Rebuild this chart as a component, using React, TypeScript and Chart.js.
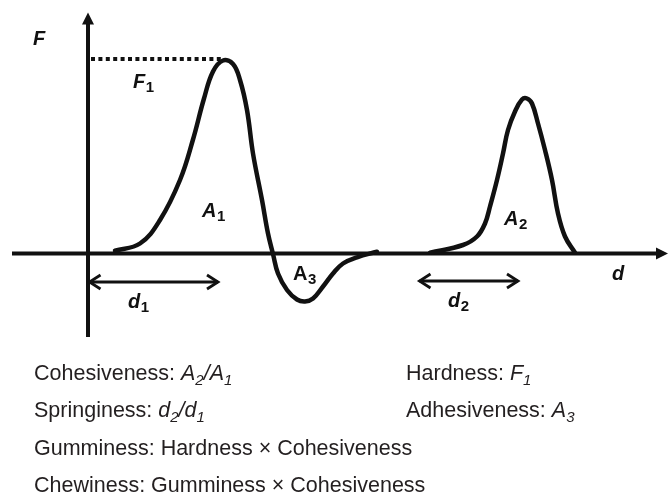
import React, { useEffect, useRef } from "react";
import { Chart, registerables } from "chart.js";

Chart.register(...registerables);

// ---- Data (distance d, force F) in arbitrary units ----
const cycle1Distance = [2.7, 5.2, 7.2, 9.2, 10.5, 11.6, 12.5, 13.5, 14.5, 15.2, 15.9, 16.5, 17.4, 18.0, 18.5, 19.0, 19.9, 20.9, 21.7, 22.5, 23.5, 24.5, 25.5, 26.9, 28.9];
const cycle1Force = [0.28, 1.0, 3.35, 7.35, 11.4, 15.5, 18.2, 19.3, 18.95, 17.35, 14.35, 10.0, 5.35, 2.0, -0.05, -2.0, -3.65, -4.6, -4.8, -4.5, -3.3, -2.0, -1.0, -0.38, 0.18];

const cycle2Distance = [34.2, 37.5, 38.9, 39.7, 40.2, 40.9, 41.5, 42.0, 42.7, 43.4, 43.9, 44.4, 45.0, 45.7, 46.4, 47.0, 47.7, 48.7];
const cycle2Force = [0.08, 0.85, 1.7, 3.0, 4.7, 7.35, 10.0, 12.35, 14.2, 15.4, 15.5, 15.0, 13.0, 10.35, 7.35, 4.0, 1.7, 0.08];

const hardnessF1 = 19.45;
const peakDistance1 = 13.5;

const d1Span = [0, 13.0];
const d2Span = [33.0, 43.0];
const dArrowLevel = [-2.85, -2.75];

const xAxisSpan = [-7.6, 58.0];
const yAxisSpan = [-8.35, 24.1];

const xRange = [-8.8, 58.0];
const yRange = [-24.05, 25.35];

// In-plot labels: main text, subscript, anchor (d, F) = baseline-left
const labelMain = ["F", "F", "A", "A", "A", "d", "d", "d"];
const labelSub = ["", "1", "1", "3", "2", "", "1", "2"];
const labelItalic = [true, true, true, false, true, true, true, true];
const labelD = [-5.5, 4.5, 11.4, 20.5, 41.6, 52.4, 4.0, 36.0];
const labelF = [20.85, 16.55, 3.65, -2.65, 2.85, -2.65, -5.45, -5.35];

// Caption rows (segments: text, italic, subscript)
type Seg = { t: string; i?: boolean; s?: boolean };
const captionCohesiveness: Seg[] = [{ t: "Cohesiveness: " }, { t: "A", i: true }, { t: "2", i: true, s: true }, { t: "/", i: true }, { t: "A", i: true }, { t: "1", i: true, s: true }];
const captionHardness: Seg[] = [{ t: "Hardness: " }, { t: "F", i: true }, { t: "1", i: true, s: true }];
const captionSpringiness: Seg[] = [{ t: "Springiness: " }, { t: "d", i: true }, { t: "2", i: true, s: true }, { t: "/", i: true }, { t: "d", i: true }, { t: "1", i: true, s: true }];
const captionAdhesiveness: Seg[] = [{ t: "Adhesiveness: " }, { t: "A", i: true }, { t: "3", i: true, s: true }];
const captionGumminess: Seg[] = [{ t: "Gumminess: Hardness \u00d7 Cohesiveness" }];
const captionChewiness: Seg[] = [{ t: "Chewiness: Gumminess \u00d7 Cohesiveness" }];

const INK = "#111111";
const TEXT = "#231f20";
const FONT = '"Liberation Sans", Arial, sans-serif';

const zip = (xs: number[], ys: number[]) => xs.map((x, k) => ({ x, y: ys[k] }));

export default function App() {
  const ref = useRef<HTMLCanvasElement>(null);

  useEffect(() => {
    const canvas = ref.current;
    if (!canvas) return;

    const axesPlugin = {
      id: "axes",
      beforeDatasetsDraw(chart: any) {
        const { ctx, scales } = chart;
        const X = (v: number) => scales.x.getPixelForValue(v);
        const Y = (v: number) => scales.y.getPixelForValue(v);
        ctx.save();
        ctx.strokeStyle = INK;
        ctx.fillStyle = INK;
        ctx.lineWidth = 4;
        ctx.lineCap = "butt";
        const head = 12;
        const half = 6;
        // x axis
        const x0 = X(xAxisSpan[0]);
        const x1 = X(xAxisSpan[1]);
        const yA = Y(0);
        ctx.beginPath();
        ctx.moveTo(x0, yA);
        ctx.lineTo(x1 - head + 1, yA);
        ctx.stroke();
        ctx.beginPath();
        ctx.moveTo(x1, yA);
        ctx.lineTo(x1 - head, yA - half);
        ctx.lineTo(x1 - head, yA + half);
        ctx.closePath();
        ctx.fill();
        // y axis
        const xA = X(0);
        const yb = Y(yAxisSpan[0]);
        const yt = Y(yAxisSpan[1]);
        ctx.beginPath();
        ctx.moveTo(xA, yb);
        ctx.lineTo(xA, yt + head - 1);
        ctx.stroke();
        ctx.beginPath();
        ctx.moveTo(xA, yt);
        ctx.lineTo(xA - half, yt + head);
        ctx.lineTo(xA + half, yt + head);
        ctx.closePath();
        ctx.fill();
        // double arrows for d1, d2
        ctx.lineWidth = 2.8;
        ctx.lineJoin = "miter";
        const spans = [d1Span, d2Span];
        spans.forEach((sp, k) => {
          const a = X(sp[0]) + 1.5;
          const b = X(sp[1]);
          const y = Y(dArrowLevel[k]);
          ctx.beginPath();
          ctx.moveTo(a, y);
          ctx.lineTo(b, y);
          ctx.stroke();
          ctx.beginPath();
          ctx.moveTo(a + 11, y - 7);
          ctx.lineTo(a, y);
          ctx.lineTo(a + 11, y + 7);
          ctx.stroke();
          ctx.beginPath();
          ctx.moveTo(b - 11, y - 7);
          ctx.lineTo(b, y);
          ctx.lineTo(b - 11, y + 7);
          ctx.stroke();
        });
        ctx.restore();
      },
    };

    const labelsPlugin = {
      id: "labels",
      afterDatasetsDraw(chart: any) {
        const { ctx, scales } = chart;
        ctx.save();
        ctx.fillStyle = INK;
        ctx.textBaseline = "alphabetic";
        ctx.textAlign = "left";
        labelMain.forEach((m, k) => {
          const st = labelItalic[k] ? "italic bold" : "bold";
          const x = scales.x.getPixelForValue(labelD[k]);
          const y = scales.y.getPixelForValue(labelF[k]);
          ctx.font = `${st} 20px ${FONT}`;
          ctx.fillText(m, x, y);
          const w = ctx.measureText(m).width;
          if (labelSub[k]) {
            ctx.font = `bold 15px ${FONT}`;
            ctx.fillText(labelSub[k], x + w + 0.5, y + 3.5);
          }
        });
        ctx.restore();
      },
    };

    const captionPlugin = {
      id: "caption",
      afterDraw(chart: any) {
        const { ctx } = chart;
        const colX = [34, 406];
        const rowY = [380, 417.3, 454.6, 492];
        const cells: [Seg[], number, number][] = [
          [captionCohesiveness, 0, 0],
          [captionHardness, 1, 0],
          [captionSpringiness, 0, 1],
          [captionAdhesiveness, 1, 1],
          [captionGumminess, 0, 2],
          [captionChewiness, 0, 3],
        ];
        ctx.save();
        ctx.fillStyle = TEXT;
        ctx.textBaseline = "alphabetic";
        ctx.textAlign = "left";
        cells.forEach(([segs, c, r]) => {
          let x = colX[c];
          const y = rowY[r];
          segs.forEach((s) => {
            ctx.font = `${s.i ? "italic " : ""}${s.s ? 15 : 21.5}px ${FONT}`;
            ctx.fillText(s.t, x, s.s ? y + 4.5 : y);
            x += ctx.measureText(s.t).width;
          });
        });
        ctx.restore();
      },
    };

    const curveStyle = {
      borderColor: INK,
      borderWidth: 4.5,
      pointRadius: 0,
      tension: 0.4,
      fill: false,
      borderJoinStyle: "round",
      borderCapStyle: "round",
    };

    const chart = new Chart(canvas, {
      type: "line",
      data: {
        datasets: [
          { data: zip(cycle1Distance, cycle1Force), ...curveStyle },
          { data: zip(cycle2Distance, cycle2Force), ...curveStyle },
          {
            data: [
              { x: 0.3, y: hardnessF1 },
              { x: peakDistance1, y: hardnessF1 },
            ],
            borderColor: INK,
            borderWidth: 4,
            borderDash: [4, 3.4],
            borderCapStyle: "butt",
            pointRadius: 0,
            tension: 0,
            fill: false,
          },
        ],
      },
      options: {
        animation: false,
        responsive: false,
        events: [],
        layout: { padding: 0 },
        plugins: { legend: { display: false }, tooltip: { enabled: false }, title: { display: false } },
        scales: {
          x: { type: "linear", min: xRange[0], max: xRange[1], display: false },
          y: { type: "linear", min: yRange[0], max: yRange[1], display: false },
        },
      } as any,
      plugins: [axesPlugin, labelsPlugin, captionPlugin],
    } as any);

    return () => chart.destroy();
  }, []);

  return (
    <div style={{ position: "absolute", left: 0, top: 0, width: 668, height: 494, background: "#ffffff" }}>
      <canvas ref={ref} width={668} height={494} style={{ display: "block", width: 668, height: 494 }} />
    </div>
  );
}
